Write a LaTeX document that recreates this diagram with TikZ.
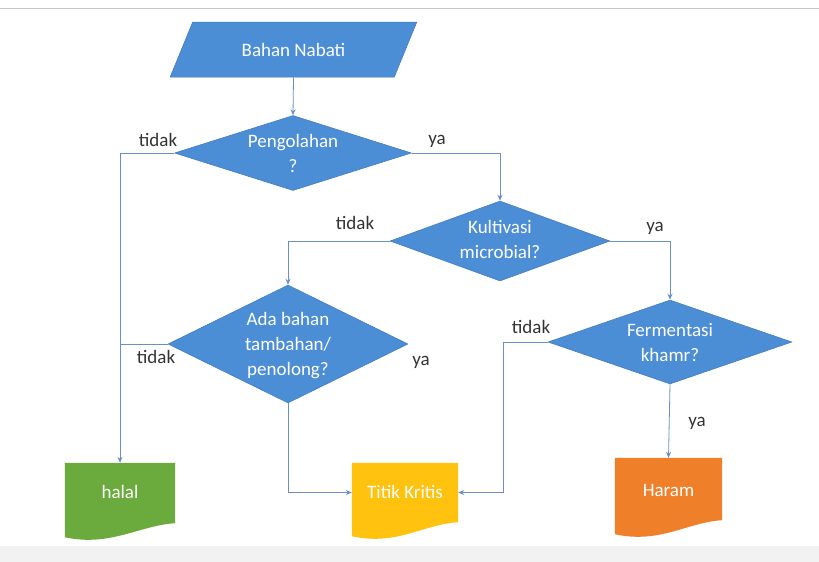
\documentclass[tikz,border=0pt]{standalone}
\usepackage{fontspec}
\setmainfont{Carlito}
\usetikzlibrary{shapes.geometric,arrows.meta,calc}
\definecolor{dblue}{HTML}{4C8ED6}
\definecolor{dborder}{HTML}{3F78B8}
\definecolor{conn}{HTML}{6A8FC4}
\definecolor{hgreen}{HTML}{6BAA3C}
\definecolor{tyellow}{HTML}{FFC20E}
\definecolor{horange}{HTML}{F07F2A}
\tikzset{
  decision/.style={diamond, fill=dblue, draw=dborder, line width=0.5pt, inner sep=0pt},
  intext/.style={text=white, align=center, inner sep=0pt, font=\fontsize{19}{25}\selectfont},
  inputbox/.style={trapezium, trapezium left angle=49, trapezium right angle=131, trapezium stretches=true, fill=dblue, draw=dborder, line width=0.5pt, text=white, font=\fontsize{19}{25}\selectfont, minimum width=247pt, minimum height=55pt, inner sep=0pt},
  docbox/.style={inner sep=0pt},
  conn/.style={draw=conn, line width=0.8pt},
  arr/.style={conn, -{Stealth[length=6pt,width=5pt]}},
  lbl/.style={font=\fontsize{19}{22}\selectfont, text=black!80}
}
\newcommand{\docshape}[2]{%
  \fill[#2] (#1.north west) -- (#1.north east) -- (#1.south east)
    .. controls ($(#1.south east)+(-35,2)$) and ($(#1.south west)+(45,24)$) .. ($(#1.south west)+(0,14)$) -- cycle;}
\begin{document}
\begin{tikzpicture}[x=1pt,y=-1pt]
\useasboundingbox (0,0) rectangle (819,562);
\fill[black!5] (0,546) rectangle (819,562);
\draw[black!22, line width=0.8pt] (0,8) -- (819,8);

\node[inputbox] (bahan) at (293.5,49.5) {Bahan Nabati};
\node[decision, minimum width=237pt, minimum height=75pt] (peng) at (293,153) {};
\node[decision, minimum width=220pt, minimum height=80pt] (kult) at (500,241) {};
\node[decision, minimum width=240pt, minimum height=118pt] (ada) at (288,344) {};
\node[decision, minimum width=244pt, minimum height=84pt] (ferm) at (670,342) {};
\node[intext] (pengt) at (293,153) {Pengolahan\\?};
\node[intext] (kultt) at (500,239) {Kultivasi\\microbial?};
\node[intext] (adat) at (288,346) {Ada bahan\\tambahan/\\penolong?};
\node[intext] (fermt) at (670,343) {Fermentasi\\khamr?};

\node[docbox, minimum width=110pt, minimum height=60pt] (halal) at (120,493) {};
\node[docbox, minimum width=106pt, minimum height=59pt] (titik) at (405,492.5) {};
\node[docbox, minimum width=107pt, minimum height=62pt] (haram) at (668.5,489) {};
\docshape{halal}{hgreen}
\docshape{titik}{tyellow}
\docshape{haram}{horange}
\node[intext] (halalt) at (120,492) {halal};
\node[intext] (titikt) at (405,492) {Titik Kritis};
\node[intext] (haramt) at (668.5,490) {Haram};

\coordinate (fturn) at (503,342);

\draw[arr] (bahan.south) -- (peng.north);
\draw[arr] (peng.west) -| (halal.north);
\draw[arr] (peng.east) -| (kult.north);
\draw[arr] (kult.west) -| (ada.north);
\draw[arr] (kult.east) -| (ferm.north);
\draw[conn] (ada.west) -- (halal.north |- ada.west);
\draw[arr] (ada.south) |- (titik.west);
\draw[arr] (ferm.west) -- (fturn) |- (titik.east);
\draw[arr] (ferm.south) -- (haram.north);

\node[lbl] (l1) at (158,140) {tidak};
\node[lbl] (l2) at (437,141) {ya};
\node[lbl] (l3) at (355,223) {tidak};
\node[lbl] (l4) at (655,228) {ya};
\node[lbl] (l5) at (156,357) {tidak};
\node[lbl] (l6) at (421,362) {ya};
\node[lbl] (l7) at (531,327) {tidak};
\node[lbl] (l8) at (697,423) {ya};
\end{tikzpicture}
\end{document}
